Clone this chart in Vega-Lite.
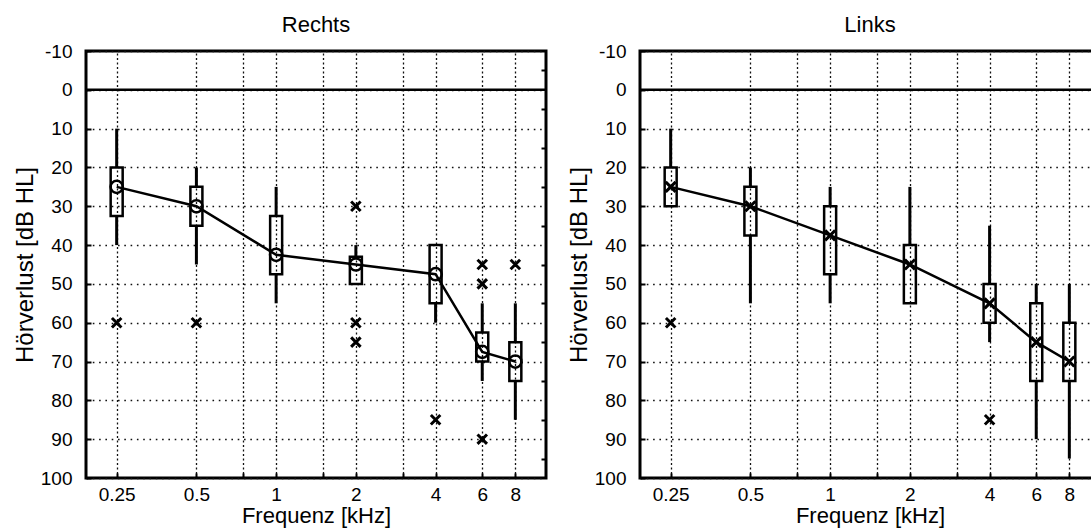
{
  "$schema": "https://vega.github.io/schema/vega-lite/v6.json",
  "padding": {"left": 11, "top": 12, "right": 0, "bottom": 0},
  "spacing": 16,
  "datasets": {
    "box": [
      {"side": "Rechts", "freq": 0.25, "lo": 10, "q1": 20, "med": 25, "q3": 32.5, "hi": 40},
      {"side": "Rechts", "freq": 0.5, "lo": 20, "q1": 25, "med": 30, "q3": 35, "hi": 45},
      {"side": "Rechts", "freq": 1, "lo": 25, "q1": 32.5, "med": 42.5, "q3": 47.5, "hi": 55},
      {"side": "Rechts", "freq": 2, "lo": 40, "q1": 43, "med": 45, "q3": 50, "hi": 50},
      {"side": "Rechts", "freq": 4, "lo": 40, "q1": 40, "med": 47.5, "q3": 55, "hi": 60},
      {"side": "Rechts", "freq": 6, "lo": 55, "q1": 62.5, "med": 67.5, "q3": 70, "hi": 75},
      {"side": "Rechts", "freq": 8, "lo": 55, "q1": 65, "med": 70, "q3": 75, "hi": 85},
      {"side": "Links", "freq": 0.25, "lo": 10, "q1": 20, "med": 25, "q3": 30, "hi": 30},
      {"side": "Links", "freq": 0.5, "lo": 20, "q1": 25, "med": 30, "q3": 37.5, "hi": 55},
      {"side": "Links", "freq": 1, "lo": 25, "q1": 30, "med": 37.5, "q3": 47.5, "hi": 55},
      {"side": "Links", "freq": 2, "lo": 25, "q1": 40, "med": 45, "q3": 55, "hi": 55},
      {"side": "Links", "freq": 4, "lo": 35, "q1": 50, "med": 55, "q3": 60, "hi": 65},
      {"side": "Links", "freq": 6, "lo": 50, "q1": 55, "med": 65, "q3": 75, "hi": 90},
      {"side": "Links", "freq": 8, "lo": 50, "q1": 60, "med": 70, "q3": 75, "hi": 95}
    ],
    "out": [
      {"side": "Rechts", "freq": 0.25, "value": 60},
      {"side": "Rechts", "freq": 0.5, "value": 60},
      {"side": "Rechts", "freq": 2, "value": 30},
      {"side": "Rechts", "freq": 2, "value": 60},
      {"side": "Rechts", "freq": 2, "value": 65},
      {"side": "Rechts", "freq": 4, "value": 85},
      {"side": "Rechts", "freq": 6, "value": 45},
      {"side": "Rechts", "freq": 6, "value": 50},
      {"side": "Rechts", "freq": 6, "value": 90},
      {"side": "Rechts", "freq": 8, "value": 45},
      {"side": "Links", "freq": 0.25, "value": 60},
      {"side": "Links", "freq": 4, "value": 85}
    ]
  },
  "config": {
    "font": "Liberation Sans",
    "axis": {
      "labelFont": "Liberation Sans", "labelFontSize": 19, "labelColor": "black", "labelOverlap": false,
      "titleFont": "Liberation Sans", "titleFontWeight": "normal", "titleColor": "black",
      "domain": false, "ticks": true, "tickSize": -5, "tickWidth": 2, "tickColor": "black",
      "grid": true, "gridColor": "#111", "gridWidth": 1.3, "gridOpacity": 1
    },
    "axisX": {"gridDash": [2, 2.5], "labelPadding": 12, "titlePadding": 1, "titleFontSize": 22},
    "axisY": {"gridDash": [1.6, 4.7], "labelPadding": 19, "titlePadding": 3, "titleFontSize": 24},
    "view": {"stroke": "black", "strokeWidth": 3},
    "title": {"font": "Liberation Sans", "fontSize": 22, "fontWeight": "normal", "color": "black", "offset": 5, "anchor": "middle"}
  },
  "hconcat": [
    {
      "title": {"text": "Rechts"},
      "width": 460, "height": 427,
      "resolve": {"axis": {"x": "independent", "y": "independent"}},
      "layer": [
        {
          "data": {"name": "box"},
          "transform": [{"filter": "datum.side === 'Rechts'"}],
          "mark": {"type": "rule", "color": "black", "strokeWidth": 3},
          "encoding": {
            "x": {"field": "freq", "type": "quantitative",
                  "scale": {"type": "log", "domain": [0.2, 10], "nice": false},
                  "axis": {"title": "Frequenz [kHz]", "values": [0.25, 0.5, 0.75, 1, 1.5, 2, 3, 4, 6, 8], "labelOverlap": false,
                           "labelExpr": "(datum.value == 0.75 || datum.value == 1.5 || datum.value == 3) ? '' : '' + datum.value"}},
            "y": {"field": "lo", "type": "quantitative",
                  "scale": {"domain": [-10, 100], "reverse": true, "nice": false, "zero": false},
                  "axis": {"title": "Hörverlust [dB HL]", "values": [-10, 0, 10, 20, 30, 40, 50, 60, 70, 80, 90, 100], "labelOverlap": false,
                           "labelExpr": "'' + datum.value"}},
            "y2": {"field": "q1"}
          }
        },
        {
          "data": {"values": [{}]},
          "mark": {"type": "rule", "color": "black", "strokeWidth": 2.5},
          "encoding": {"y": {"datum": 0, "type": "quantitative",
                             "axis": {"orient": "right", "title": null, "labels": false,
                                      "values": [-5, 5, 15, 25, 35, 45, 55, 65, 75, 85, 95]}}}
        },
        {
          "data": {"name": "box"},
          "transform": [{"filter": "datum.side === 'Rechts'"}],
          "mark": {"type": "rule", "color": "black", "strokeWidth": 3},
          "encoding": {
            "x": {"field": "freq", "type": "quantitative", "axis": null},
            "y": {"field": "q3", "type": "quantitative", "axis": null},
            "y2": {"field": "hi"}
          }
        },
        {
          "data": {"name": "box"},
          "transform": [{"filter": "datum.side === 'Rechts'"}],
          "mark": {"type": "bar", "size": 12, "fill": "transparent", "stroke": "black", "strokeWidth": 2.5},
          "encoding": {
            "x": {"field": "freq", "type": "quantitative", "axis": null},
            "y": {"field": "q1", "type": "quantitative", "axis": null},
            "y2": {"field": "q3"}
          }
        },
        {
          "data": {"name": "box"},
          "transform": [{"filter": "datum.side === 'Rechts'"}],
          "mark": {"type": "line", "color": "black", "strokeWidth": 2.5},
          "encoding": {
            "x": {"field": "freq", "type": "quantitative", "axis": null},
            "y": {"field": "med", "type": "quantitative", "axis": null}
          }
        },
        {
          "data": {"name": "box"},
          "transform": [{"filter": "datum.side === 'Rechts'"}],
          "mark": {"type": "point", "shape": "circle", "size": 150, "filled": false, "color": "black", "strokeWidth": 2.5, "opacity": 1},
          "encoding": {
            "x": {"field": "freq", "type": "quantitative", "axis": null},
            "y": {"field": "med", "type": "quantitative", "axis": null}
          }
        },
        {
          "data": {"name": "out"},
          "transform": [{"filter": "datum.side === 'Rechts'"}],
          "mark": {"type": "point", "shape": "M-1,-1L1,1M1,-1L-1,1", "size": 90, "filled": false, "color": "black", "strokeWidth": 3, "opacity": 1},
          "encoding": {
            "x": {"field": "freq", "type": "quantitative", "axis": null},
            "y": {"field": "value", "type": "quantitative", "axis": null}
          }
        }
      ]
    },
    {
      "title": {"text": "Links"},
      "width": 460, "height": 427,
      "resolve": {"axis": {"x": "independent", "y": "independent"}},
      "layer": [
        {
          "data": {"name": "box"},
          "transform": [{"filter": "datum.side === 'Links'"}],
          "mark": {"type": "rule", "color": "black", "strokeWidth": 3},
          "encoding": {
            "x": {"field": "freq", "type": "quantitative",
                  "scale": {"type": "log", "domain": [0.2, 10], "nice": false},
                  "axis": {"title": "Frequenz [kHz]", "values": [0.25, 0.5, 0.75, 1, 1.5, 2, 3, 4, 6, 8], "labelOverlap": false,
                           "labelExpr": "(datum.value == 0.75 || datum.value == 1.5 || datum.value == 3) ? '' : '' + datum.value"}},
            "y": {"field": "lo", "type": "quantitative",
                  "scale": {"domain": [-10, 100], "reverse": true, "nice": false, "zero": false},
                  "axis": {"title": "Hörverlust [dB HL]", "values": [-10, 0, 10, 20, 30, 40, 50, 60, 70, 80, 90, 100], "labelOverlap": false,
                           "labelExpr": "'' + datum.value"}},
            "y2": {"field": "q1"}
          }
        },
        {
          "data": {"values": [{}]},
          "mark": {"type": "rule", "color": "black", "strokeWidth": 2.5},
          "encoding": {"y": {"datum": 0, "type": "quantitative",
                             "axis": {"orient": "right", "title": null, "labels": false,
                                      "values": [-5, 5, 15, 25, 35, 45, 55, 65, 75, 85, 95]}}}
        },
        {
          "data": {"name": "box"},
          "transform": [{"filter": "datum.side === 'Links'"}],
          "mark": {"type": "rule", "color": "black", "strokeWidth": 3},
          "encoding": {
            "x": {"field": "freq", "type": "quantitative", "axis": null},
            "y": {"field": "q3", "type": "quantitative", "axis": null},
            "y2": {"field": "hi"}
          }
        },
        {
          "data": {"name": "box"},
          "transform": [{"filter": "datum.side === 'Links'"}],
          "mark": {"type": "bar", "size": 12, "fill": "transparent", "stroke": "black", "strokeWidth": 2.5},
          "encoding": {
            "x": {"field": "freq", "type": "quantitative", "axis": null},
            "y": {"field": "q1", "type": "quantitative", "axis": null},
            "y2": {"field": "q3"}
          }
        },
        {
          "data": {"name": "box"},
          "transform": [{"filter": "datum.side === 'Links'"}],
          "mark": {"type": "line", "color": "black", "strokeWidth": 2.5},
          "encoding": {
            "x": {"field": "freq", "type": "quantitative", "axis": null},
            "y": {"field": "med", "type": "quantitative", "axis": null}
          }
        },
        {
          "data": {"name": "box"},
          "transform": [{"filter": "datum.side === 'Links'"}],
          "mark": {"type": "point", "shape": "M-1,-1L1,1M1,-1L-1,1", "size": 100, "filled": false, "color": "black", "strokeWidth": 3, "opacity": 1},
          "encoding": {
            "x": {"field": "freq", "type": "quantitative", "axis": null},
            "y": {"field": "med", "type": "quantitative", "axis": null}
          }
        },
        {
          "data": {"name": "out"},
          "transform": [{"filter": "datum.side === 'Links'"}],
          "mark": {"type": "point", "shape": "M-1,-1L1,1M1,-1L-1,1", "size": 90, "filled": false, "color": "black", "strokeWidth": 3, "opacity": 1},
          "encoding": {
            "x": {"field": "freq", "type": "quantitative", "axis": null},
            "y": {"field": "value", "type": "quantitative", "axis": null}
          }
        }
      ]
    }
  ]
}
